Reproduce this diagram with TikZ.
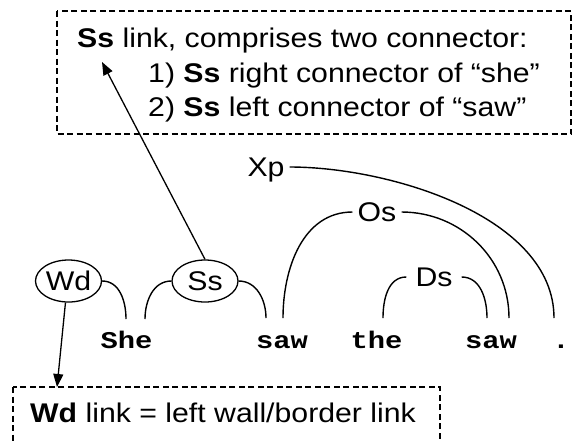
\documentclass[tikz,border=0pt]{standalone}
\usepackage{fontspec}
\setmainfont[FakeStretch=1.12]{Liberation Sans}
\newfontfamily\wordfont[FakeStretch=1.2]{Liberation Mono}
\usetikzlibrary{arrows.meta,shapes.geometric}

\begin{document}
\begin{tikzpicture}[x=1pt,y=-1pt,
  every node/.style={font=\fontsize{27}{31}\selectfont},
  note/.style={draw, dash pattern=on 6pt off 3.5pt, line width=1.1pt},
  link/.style={line width=1.4pt},
  linklabel/.style={inner ysep=0pt, inner xsep=5pt, text height=19pt, text depth=0pt},
  wordtext/.style={font=\wordfont\bfseries\fontsize{24}{28}\selectfont, anchor=base, inner sep=0pt},
  connlabel/.style={draw, ellipse, line width=1.3pt, inner sep=0pt,
                    minimum width=66pt, minimum height=42pt},
  pointer/.style={line width=1.3pt, -{Triangle[length=13pt,width=10pt]}},
  textline/.style={anchor=base west, inner sep=0pt}
]
\clip (0,0) rectangle (572,440);

% explanatory notes
\draw[note] (57,11) rectangle (571,134);
\node[textline] (ln1) at (77,47)  {\textbf{Ss} link, comprises two connector:};
\node[textline] (ln2) at (148,82) {1) \textbf{Ss} right connector of “she”};
\node[textline] (ln3) at (148,116){2) \textbf{Ss} left connector of “saw”};

\draw[note] (13,387) rectangle (440,470);
\node[textline] (wdnote) at (30,422) {\textbf{Wd} link = left wall/border link};

% the sentence
\node[wordtext] (she)  at (126.5,348) {She};
\node[wordtext] (saw1) at (282,348)   {saw};
\node[wordtext] (the)  at (376.5,348) {the};
\node[wordtext] (saw2) at (491,348)   {saw};
\node[wordtext] (stop) at (561,348)   {.};

% link labels
\node[connlabel] (wd) at (68.5,281) {Wd};
\node[connlabel] (ss) at (205,281)  {Ss};
\node[linklabel] (xp) at (266,167) {Xp};
\node[linklabel] (os) at (377,212) {Os};
\node[linklabel, inner xsep=9pt] (ds) at (434,277) {Ds};

% connector ends above the words
\coordinate (she-wd)  at (126,319);
\coordinate (she-ss)  at (145,319);
\coordinate (saw1-ss) at (266,318);
\coordinate (saw1-os) at (283,318);
\coordinate (the-ds)  at (383,318);
\coordinate (saw2-ds) at (487,318);
\coordinate (saw2-os) at (509,318);
\coordinate (stop-xp) at (554,318);

% links
\draw[link] (wd.east) to[out=0,in=90] (she-wd);
\draw[link] (ss.west) to[out=180,in=90] (she-ss);
\draw[link] (ss.east) to[out=0,in=90] (saw1-ss);
\draw[link] (os.west) to[out=180,in=90] (saw1-os);
\draw[link] (os.east) to[out=0,in=90] (saw2-os);
\draw[link] (ds.west) to[out=180,in=90] (the-ds);
\draw[link] (ds.east) to[out=0,in=90] (saw2-ds);
\draw[link] (xp.east) to[out=0,in=90,looseness=0.85] (stop-xp);

% pointers to the notes
\coordinate (ss-ref) at (102,62);
\coordinate (wd-ref) at (57,387);
\draw[pointer] (ss.north) -- (ss-ref);
\draw[pointer] (wd.262) -- (wd-ref);
\end{tikzpicture}
\end{document}
